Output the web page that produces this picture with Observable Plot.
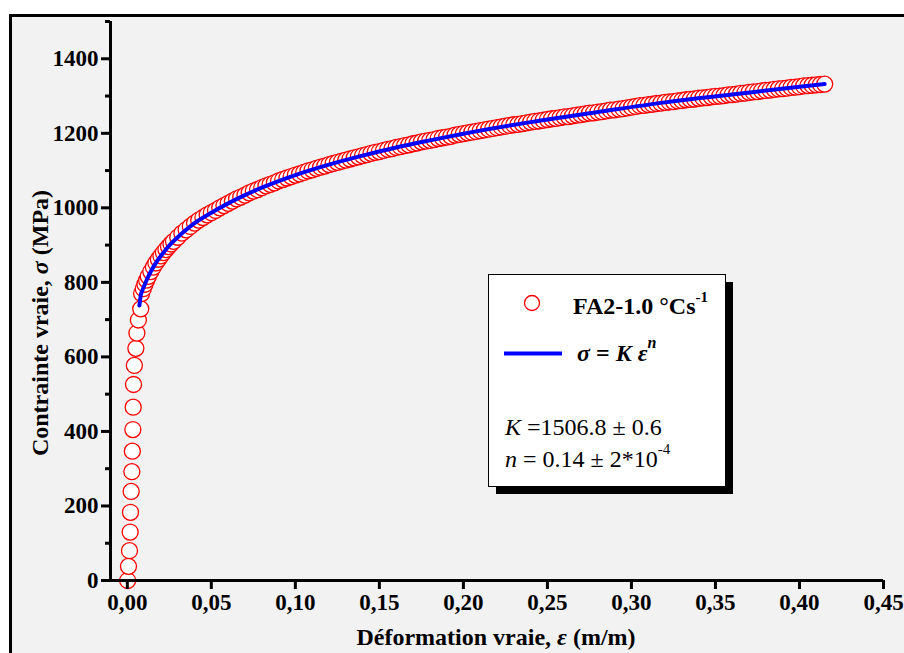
<!DOCTYPE html>
<html>
<head>
<meta charset="utf-8">
<script src="https://cdn.jsdelivr.net/npm/d3@7"></script>
<script src="https://cdn.jsdelivr.net/npm/@observablehq/plot@0.6"></script>
<style>
  html, body { margin: 0; padding: 0; background: #ffffff; overflow: hidden; width: 904px; height: 653px; }
  #panel { position: absolute; left: 9px; top: 14px; width: 1000px; height: 1000px; background: #f2f2f2;
           border-left: 3px solid #000; border-top: 3px solid #000; }
  #chart { position: absolute; left: 0; top: 0; }
  #chart svg text, #chart svg tspan { font-family: "Liberation Serif", "Times New Roman", "DejaVu Serif", serif !important; }
</style>
</head>
<body>
<div id="panel"></div>
<div id="chart"></div>
<script>
// ---- measured data (true strain, true stress in MPa) ----
const dataStrain = [
  0.0002, 0.0007, 0.0013, 0.0017, 0.0019, 0.0023, 0.0027, 0.0030,
  0.0033, 0.0035, 0.0037, 0.0042, 0.0051, 0.0057, 0.0066, 0.0080,
  0.0085, 0.0095, 0.0105, 0.0115, 0.0125, 0.0140, 0.0155, 0.0170,
  0.0185, 0.0200, 0.0215, 0.0230, 0.0245, 0.0260, 0.0275,
  0.0300, 0.0325, 0.0350, 0.0375, 0.0400, 0.0425, 0.0450, 0.0475,
  0.0500, 0.0525, 0.0550, 0.0575, 0.0600, 0.0625, 0.0650, 0.0675,
  0.0700, 0.0725, 0.0750, 0.0775, 0.0800, 0.0825, 0.0850, 0.0875,
  0.0900, 0.0925, 0.0950, 0.0975, 0.1000, 0.1025, 0.1050, 0.1075,
  0.1100, 0.1125, 0.1150, 0.1175, 0.1200, 0.1225, 0.1250, 0.1275,
  0.1300, 0.1325, 0.1350, 0.1375, 0.1400, 0.1425, 0.1450, 0.1475,
  0.1500, 0.1525, 0.1550, 0.1575, 0.1600, 0.1625, 0.1650, 0.1675,
  0.1700, 0.1725, 0.1750, 0.1775, 0.1800, 0.1825, 0.1850, 0.1875,
  0.1900, 0.1925, 0.1950, 0.1975, 0.2000, 0.2025, 0.2050, 0.2075,
  0.2100, 0.2125, 0.2150, 0.2175, 0.2200, 0.2225, 0.2250, 0.2275,
  0.2300, 0.2325, 0.2350, 0.2375, 0.2400, 0.2425, 0.2450, 0.2475,
  0.2500, 0.2525, 0.2550, 0.2575, 0.2600, 0.2625, 0.2650, 0.2675,
  0.2700, 0.2725, 0.2750, 0.2775, 0.2800, 0.2825, 0.2850, 0.2875,
  0.2900, 0.2925, 0.2950, 0.2975, 0.3000, 0.3025, 0.3050, 0.3075,
  0.3100, 0.3125, 0.3150, 0.3175, 0.3200, 0.3225, 0.3250, 0.3275,
  0.3300, 0.3325, 0.3350, 0.3375, 0.3400, 0.3425, 0.3450, 0.3475,
  0.3500, 0.3525, 0.3550, 0.3575, 0.3600, 0.3625, 0.3650, 0.3675,
  0.3700, 0.3725, 0.3750, 0.3775, 0.3800, 0.3825, 0.3850, 0.3875,
  0.3900, 0.3925, 0.3950, 0.3975, 0.4000, 0.4025, 0.4050, 0.4075,
  0.4100, 0.4125, 0.4150
];
const dataStress = [
  0, 38, 80, 130, 183, 239, 292, 347,
  405, 465, 526, 577, 623, 664, 699, 729,
  770, 783, 795, 806, 816, 829, 841, 852,
  862, 871, 880, 888, 896, 903, 910,
  921, 932, 941, 950, 959, 967, 974, 981,
  987, 993, 1000, 1006, 1012, 1018, 1024, 1029,
  1034, 1040, 1045, 1049, 1054, 1059, 1063, 1067,
  1072, 1076, 1080, 1084, 1088, 1091, 1095, 1099,
  1102, 1106, 1109, 1112, 1116, 1119, 1122, 1125,
  1128, 1131, 1134, 1137, 1140, 1143, 1146, 1149,
  1151, 1154, 1157, 1159, 1162, 1164, 1167, 1169,
  1172, 1174, 1177, 1179, 1181, 1183, 1186, 1188,
  1190, 1192, 1195, 1197, 1199, 1201, 1203, 1205,
  1207, 1209, 1211, 1213, 1215, 1217, 1219, 1221,
  1223, 1224, 1226, 1228, 1230, 1232, 1233, 1235,
  1237, 1239, 1240, 1242, 1244, 1245, 1247, 1249,
  1250, 1252, 1254, 1255, 1257, 1258, 1260, 1262,
  1263, 1265, 1266, 1268, 1270, 1272, 1274, 1275,
  1277, 1278, 1280, 1281, 1283, 1284, 1285, 1287,
  1288, 1290, 1291, 1292, 1294, 1295, 1296, 1298,
  1299, 1300, 1301, 1303, 1304, 1305, 1307, 1308,
  1310, 1311, 1312, 1314, 1315, 1316, 1318, 1319,
  1320, 1321, 1323, 1324, 1325, 1327, 1328, 1329,
  1330, 1331, 1332
];

// ---- fitted curve sigma = K eps^n ----
const fitStrain = [0.0072, 0.008, 0.009, 0.010, 0.012, 0.014, 0.016, 0.018, 0.020, 0.025,
                   0.030, 0.035, 0.040, 0.050, 0.060, 0.070, 0.080, 0.100, 0.120, 0.140,
                   0.160, 0.180, 0.200, 0.240, 0.280, 0.320, 0.360, 0.400, 0.415];
const fitStress = [738, 765, 779, 790, 811, 829, 845, 859, 871, 899,
                   921, 941, 959, 987, 1012, 1034, 1054, 1088, 1116, 1140,
                   1162, 1181, 1199, 1230, 1257, 1283, 1304, 1325, 1332];

// ---- axes ----
const xTicks = [0, 0.05, 0.10, 0.15, 0.20, 0.25, 0.30, 0.35, 0.40, 0.45];
const xTickLabels = ["0,00", "0,05", "0,10", "0,15", "0,20", "0,25", "0,30", "0,35", "0,40", "0,45"];
const yTicks = [0, 200, 400, 600, 800, 1000, 1200, 1400];
const yTickLabels = ["0", "200", "400", "600", "800", "1000", "1200", "1400"];
const yMinorTicks = [100, 300, 500, 700, 900, 1100, 1300, 1500];

const seriesName = "FA2-1.0 °Cs";
const fitK = "1506.8 ± 0.6";
const fitN = "0.14 ± 2*10";

const points = dataStrain.map((e, i) => ({e, s: dataStress[i]}));
const fit = fitStrain.map((e, i) => ({e, s: fitStress[i]}));

const serif = "Liberation Serif, Times New Roman, DejaVu Serif, serif";
const tickText = {fontSize: 23, fontWeight: "bold", fontFamily: serif, fill: "#000"};

const chart = Plot.plot({
  width: 904,
  height: 653,
  marginLeft: 110,
  marginRight: 21,
  marginTop: 21,
  marginBottom: 73,
  style: {background: "transparent", fontFamily: serif, color: "#000", overflow: "visible"},
  x: {domain: [-0.01, 0.45]},
  y: {domain: [0, 1500]},
  marks: [
    Plot.dot(points, {x: "e", y: "s", r: 8, stroke: "#ff0000", fill: "#ffffff", strokeWidth: 1.3}),
    Plot.line(fit, {x: "e", y: "s", stroke: "#0000ff", strokeWidth: 4, curve: "monotone-x"}),
    Plot.axisY({ticks: yMinorTicks, tickSize: 5, tickFormat: () => "", strokeWidth: 3, label: null}),
    Plot.axisY({ticks: yTicks, tickSize: 9, tickPadding: 3, strokeWidth: 3, label: null,
                tickFormat: d => yTickLabels[yTicks.indexOf(d)], ...tickText}),
    Plot.axisX({ticks: xTicks, tickSize: 9, tickPadding: 4, strokeWidth: 3, label: null,
                tickFormat: d => xTickLabels[xTicks.indexOf(d)], ...tickText}),
    Plot.ruleX([-0.01], {strokeWidth: 3, stroke: "#000"}),
    Plot.ruleY([0], {strokeWidth: 3, stroke: "#000"})
  ]
});
document.getElementById("chart").appendChild(chart);

// ---- titles and legend ----
const svg = d3.select(chart);

function txt(parent, x, y, size, weight, anchor) {
  return parent.append("text")
    .attr("x", x).attr("y", y)
    .attr("text-anchor", anchor)
    .style("text-anchor", anchor)
    .style("font-size", size + "px")
    .style("font-weight", weight)
    .attr("fill", "#000");
}

// y title
const yt = svg.append("text")
  .attr("transform", "translate(48,323) rotate(-90)")
  .style("text-anchor", "middle").style("font-size", "24px").style("font-weight", "bold")
  .attr("fill", "#000");
yt.append("tspan").text("Contrainte vraie, ");
yt.append("tspan").style("font-style", "italic").text("σ");
yt.append("tspan").text(" (MPa)");

// x title
const xt = txt(svg, 496, 645, 24, "bold", "middle");
xt.append("tspan").text("Déformation vraie, ");
xt.append("tspan").style("font-style", "italic").text("ε");
xt.append("tspan").text(" (m/m)");

// legend box with shadow
const lg = svg.append("g");
lg.append("rect").attr("x", 496).attr("y", 282).attr("width", 237).attr("height", 212).attr("fill", "#000");
lg.append("rect").attr("x", 488.5).attr("y", 274.5).attr("width", 237).attr("height", 212)
  .attr("fill", "#fff").attr("stroke", "#000").attr("stroke-width", 1);

lg.append("circle").attr("cx", 532).attr("cy", 303).attr("r", 7.5)
  .attr("fill", "none").attr("stroke", "#ff0000").attr("stroke-width", 1.3);
const t1 = txt(lg, 573, 314, 24, "bold", "start");
t1.append("tspan").text(seriesName);
t1.append("tspan").style("font-size", "15px").attr("dy", -12).text("-1");

lg.append("line").attr("x1", 504).attr("x2", 562).attr("y1", 353.5).attr("y2", 353.5)
  .attr("stroke", "#0000ff").attr("stroke-width", 4);
const t2 = txt(lg, 577, 361, 24, "bold", "start");
t2.append("tspan").style("font-style", "italic").text("σ");
t2.append("tspan").text(" = ");
t2.append("tspan").style("font-style", "italic").text("K ε");
t2.append("tspan").style("font-style", "italic").style("font-size", "16px").attr("dy", -13).text("n");

const t3 = txt(lg, 505, 435, 24, "normal", "start");
t3.append("tspan").style("font-style", "italic").text("K");
t3.append("tspan").text(" =" + fitK);

const t4 = txt(lg, 505, 467, 24, "normal", "start");
t4.append("tspan").style("font-style", "italic").text("n");
t4.append("tspan").text(" = " + fitN);
t4.append("tspan").style("font-size", "15px").attr("dy", -13).text("-4");
</script>
</body>
</html>
